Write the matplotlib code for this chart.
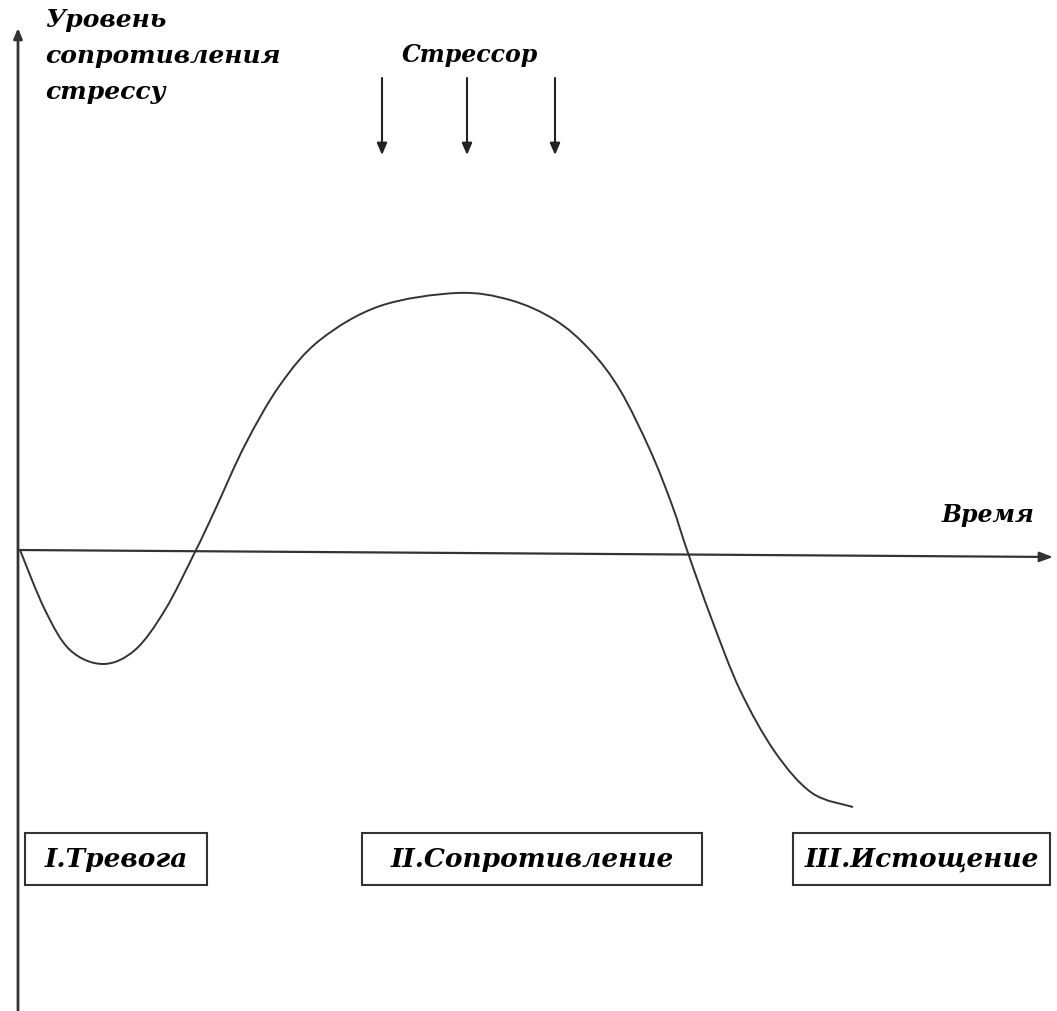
import matplotlib
matplotlib.use('Agg')
from matplotlib import pyplot as plt
from matplotlib.patches import Rectangle, PathPatch
from matplotlib.path import Path

# curve (image pixel coordinates, y grows downward)
curve_x = [20, 45, 70, 103, 135, 165, 195, 215, 245, 280, 320, 380, 457,
           510, 555, 590, 620, 650, 672, 688, 712, 740, 775, 812, 853]
curve_y = [550, 610, 650, 664, 650, 610, 552, 510, 445, 385, 340, 306, 293,
           300, 320, 350, 390, 450, 505, 553, 620, 690, 752, 793, 807]

stressor_x = [382, 467, 555]

phase_labels = ['I.Тревога', 'II.Сопротивление', 'III.Истощение']
phase_boxes = [(25, 833, 182, 52), (362, 833, 340, 52), (793, 833, 257, 52)]

y_label_lines = ['Уровень', 'сопротивления', 'стрессу']

font = dict(family='DejaVu Serif', fontweight='bold', fontstyle='italic')


def smooth_path(xs, ys):
    # Catmull-Rom through the read points, as cubic bezier segments
    pts = list(zip(xs, ys))
    verts = [pts[0]]
    codes = [Path.MOVETO]
    for i in range(len(pts) - 1):
        p0 = pts[i - 1] if i > 0 else pts[i]
        p1 = pts[i]
        p2 = pts[i + 1]
        p3 = pts[i + 2] if i + 2 < len(pts) else pts[i + 1]
        c1 = (p1[0] + (p2[0] - p0[0]) / 6, p1[1] + (p2[1] - p0[1]) / 6)
        c2 = (p2[0] - (p3[0] - p1[0]) / 6, p2[1] - (p3[1] - p1[1]) / 6)
        verts += [c1, c2, p2]
        codes += [Path.CURVE4] * 3
    return Path(verts, codes)


W, H = 1057, 1011
fig = plt.figure(figsize=(W / 100, H / 100), dpi=100)
ax = fig.add_axes([0, 0, 1, 1])
ax.set_xlim(0, W)
ax.set_ylim(H, 0)
ax.axis('off')

# axes of the diagram
ax.annotate('', xy=(18, 28), xytext=(18, H),
            arrowprops=dict(arrowstyle='-|>,head_length=0.6,head_width=0.25',
                            color='#333333', lw=2, shrinkA=0, shrinkB=0))
ax.annotate('', xy=(1053, 557), xytext=(18, 550),
            arrowprops=dict(arrowstyle='-|>,head_length=0.8,head_width=0.3',
                            color='#333333', lw=1.6, shrinkA=0, shrinkB=0))

ax.add_patch(PathPatch(smooth_path(curve_x, curve_y), fill=False,
                       ec='#333333', lw=1.4))

# stressor arrows
for sx in stressor_x:
    ax.annotate('', xy=(sx, 155), xytext=(sx, 78),
                arrowprops=dict(arrowstyle='-|>,head_length=0.7,head_width=0.3',
                                color='#222222', lw=1.5, shrinkA=0, shrinkB=0))

ax.text(470, 55, 'Стрессор', ha='center', va='center', fontsize=17, **font)
ax.text(988, 515, 'Время', ha='center', va='center', fontsize=17, **font)

for i, line in enumerate(y_label_lines):
    ax.text(45, 27 + i * 36, line, ha='left', va='baseline', fontsize=18, **font)

for label, (bx, by, bw, bh) in zip(phase_labels, phase_boxes):
    ax.add_patch(Rectangle((bx, by), bw, bh, fill=False, ec='#333333', lw=1.5))
    ax.text(bx + bw / 2, by + bh / 2, label, ha='center', va='center',
            fontsize=19, **font)

fig.savefig('out.png', dpi=100)
